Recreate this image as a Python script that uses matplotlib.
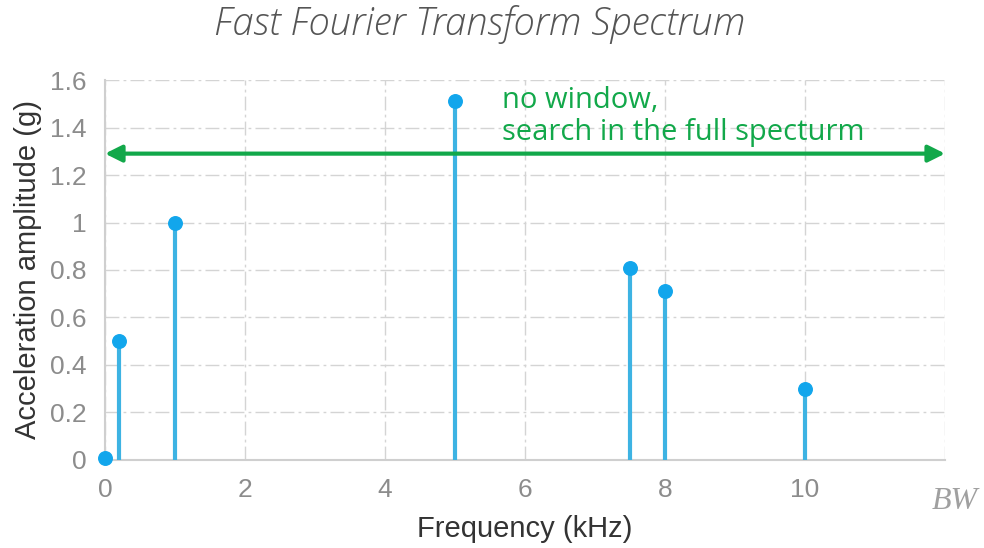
import matplotlib
matplotlib.use('Agg')
import matplotlib.pyplot as plt

freq_khz = [0, 0.2, 1, 5, 7.5, 8, 10]
amplitude = [0.01, 0.5, 1.0, 1.51, 0.81, 0.71, 0.30]
x_ticks = [0, 2, 4, 6, 8, 10]
y_ticks = [0, 0.2, 0.4, 0.6, 0.8, 1, 1.2, 1.4, 1.6]
y_tick_labels = ['0', '0.2', '0.4', '0.6', '0.8', '1', '1.2', '1.4', '1.6']
arrow_level = 1.29

fig = plt.figure(figsize=(9.84, 5.48), dpi=100)
ax = fig.add_axes([0.1067, 0.1606, 0.8537, 0.6934])

blue_stem = '#3db3e3'
blue_dot = '#12a6ec'
green = '#12a84a'

# stems (the one at 0 has no visible stem)
for f, a in zip(freq_khz[1:], amplitude[1:]):
    ax.plot([f, f], [0, a], color=blue_stem, lw=3, solid_capstyle='butt', zorder=3)
ax.scatter(freq_khz, amplitude, s=95, color=blue_dot, zorder=4, clip_on=False)

ax.set_xlim(0, 12)
ax.set_ylim(0, 1.6)
ax.set_xticks(x_ticks)
ax.set_yticks(y_ticks)
ax.set_yticklabels(y_tick_labels)
ax.tick_params(length=0, labelsize=19, labelcolor='#8c8c8c', pad=13)
for lab in ax.get_xticklabels() + ax.get_yticklabels():
    lab.set_family('Liberation Sans')

ax.grid(True, color='#d4d4d4', lw=1, linestyle=(0, (10, 3, 2, 3)), zorder=0)
ax.set_axisbelow(True)
for s in ['top', 'right']:
    ax.spines[s].set_visible(False)
for s in ['left', 'bottom']:
    ax.spines[s].set_color('#cfcfcf')
    ax.spines[s].set_linewidth(1.5)
# right dash-dot border at x=12
ax.axvline(12, color='#d4d4d4', lw=1, linestyle=(0, (10, 3, 2, 3)), zorder=0)

ax.set_xlabel('Frequency (kHz)', fontsize=21, family='Liberation Sans', color='#333333', labelpad=9)
ax.set_ylabel('Acceleration amplitude (g)', fontsize=21, family='Liberation Sans', color='#333333', labelpad=6)

ax.annotate('', xy=(0, arrow_level), xytext=(12, arrow_level),
            arrowprops=dict(arrowstyle='<|-|>', color=green, lw=3, mutation_scale=25,
                            shrinkA=0, shrinkB=0), annotation_clip=False)
ax.text(5.67, 1.347, 'no window,\nsearch in the full specturm', color=green, fontsize=21,
        family='Open Sans', linespacing=1.15, va='baseline', ha='left')

fig.text(0.488, 0.955, 'Fast Fourier Transform Spectrum', ha='center', va='center',
         fontsize=27.5, style='italic', weight='light', family='Open Sans', color='#555555')
fig.text(0.994, 0.084, 'BW', ha='right', va='center', fontsize=23, style='italic',
         family='Liberation Serif', color='#a0a0a0')

fig.savefig('out.png', dpi=100)
